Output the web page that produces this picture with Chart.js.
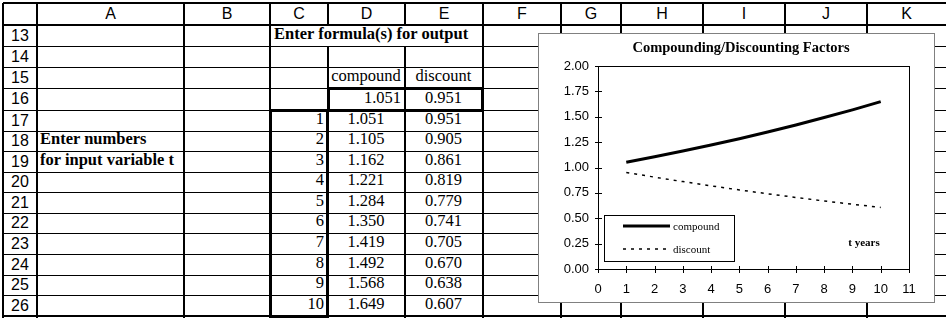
<!DOCTYPE html>
<html>
<head>
<meta charset="utf-8">
<script src="https://cdn.jsdelivr.net/npm/chart.js@4"></script>
<style>
  html, body { margin: 0; padding: 0; background: #fff; }
  #sheet { position: relative; width: 946px; height: 321px; overflow: hidden; }
  .ln { position: absolute; background: #000; }
  .box { position: absolute; border: 3px solid #000; box-sizing: border-box; }
  .cell { position: absolute; display: flex; box-sizing: border-box; white-space: nowrap; color: #000; }
  .cell span { display: inline-block; transform: scaleY(1.07); transform-origin: bottom; }
  .hdr { font: 16px "Liberation Sans", Arial, sans-serif; align-items: center; justify-content: center; }
  .txt { font: 16.5px "Liberation Serif", "Times New Roman", serif; align-items: flex-end; padding: 0 4px 2px 3px; }
  #chartBox { position: absolute; left: 538px; top: 33px; width: 397px; height: 270px;
              box-sizing: border-box; border: 1px solid #808080; background: #fff; }
</style>
</head>
<body>
<div id="sheet">
  <div id="chartBox"><canvas id="factorsChart" width="395" height="268"></canvas></div>
</div>
<script>
// data of the sheet / chart
const years = [1, 2, 3, 4, 5, 6, 7, 8, 9, 10];
const compound = [1.051, 1.105, 1.162, 1.221, 1.284, 1.350, 1.419, 1.492, 1.568, 1.649];
const discount = [0.951, 0.905, 0.861, 0.819, 0.779, 0.741, 0.705, 0.670, 0.638, 0.607];
const colLetters = ["A", "B", "C", "D", "E", "F", "G", "H", "I", "J", "K"];
const rowNumbers = [13, 14, 15, 16, 17, 18, 19, 20, 21, 22, 23, 24, 25, 26];
const xTicks = [0, 1, 2, 3, 4, 5, 6, 7, 8, 9, 10, 11];
const yTicks = [0, 0.25, 0.5, 0.75, 1, 1.25, 1.5, 1.75, 2];

// grid geometry (pixels)
const colX = [3, 37, 184, 270, 328, 405, 483, 561, 621, 703, 785, 867, 946];
const rowY = [3, 25, 46, 67, 88, 110, 131, 151, 172, 192, 213, 233, 254, 275, 295, 316];

const sheet = document.getElementById("sheet");
const chartBox = document.getElementById("chartBox");

function addDiv(cls, x, y, w, h) {
    const d = document.createElement("div");
    d.className = cls;
    Object.assign(d.style, { left: x + "px", top: y + "px", width: w + "px", height: h + "px" });
    sheet.insertBefore(d, chartBox);
    return d;
}

// grid lines (the last column edge is cut off by the window)
colX.slice(0, -1).forEach(x => addDiv("ln", x - 1, 3, 2, 316 - 3 + 2));
rowY.forEach((y, i) => {
    const thick = (i <= 1 || i === rowY.length - 1) ? 2 : 1;
    addDiv("ln", 3, y - (thick > 1 ? 1 : 0), 946, thick);
});

// text cells: c = column index (0 = row header), r = row index (0 = column header)
function addCell(c, r, text, opts = {}) {
    const c2 = opts.span ? c + opts.span : c + 1;
    const d = addDiv("cell " + (opts.hdr ? "hdr" : "txt"), colX[c], rowY[r], colX[c2] - colX[c], rowY[r + 1] - rowY[r]);
    if (!opts.hdr) d.style.justifyContent = opts.align === "right" ? "flex-end" : opts.align === "center" ? "center" : "flex-start";
    if (opts.bold) d.style.fontWeight = "bold";
    if (opts.span) {
        // text spilling over empty cells hides their grid lines
        d.style.background = "#fff";
        d.style.left = (colX[c] + 1) + "px";
        d.style.width = (colX[c2] - colX[c] - 2) + "px";
        d.style.top = (rowY[r] + 1) + "px";
        d.style.height = (rowY[r + 1] - rowY[r] - 1) + "px";
    }
    const s = document.createElement("span");
    s.textContent = text;
    d.appendChild(s);
}

colLetters.forEach((l, i) => addCell(i + 1, 0, l, { hdr: true }));
rowNumbers.forEach((n, i) => addCell(0, i + 1, String(n), { hdr: true }));

addCell(3, 1, "Enter formula(s) for output", { bold: true, span: 3 });
addCell(4, 3, "compound", { align: "center" });
addCell(5, 3, "discount", { align: "center" });
addCell(4, 4, compound[0].toFixed(3), { align: "right" });
addCell(5, 4, discount[0].toFixed(3), { align: "center" });
addCell(1, 6, "Enter numbers", { bold: true });
addCell(1, 7, "for input variable t", { bold: true });
years.forEach((t, i) => {
    addCell(3, 5 + i, String(t), { align: "right" });
    addCell(4, 5 + i, compound[i].toFixed(3), { align: "center" });
    addCell(5, 5 + i, discount[i].toFixed(3), { align: "center" });
});

// thick borders: D16:E16 and C17:C26
addDiv("box", colX[4] - 1, rowY[4] - 1, colX[6] - colX[4] + 2, rowY[5] - rowY[4] + 3);
addDiv("box", colX[3] - 1, rowY[5] - 1, colX[4] - colX[3] + 2, rowY[15] - rowY[5] + 3);

// ____________________________________________________________________________

// frame, crossing ticks, title, legend and axis note
const excelDecor = {
    id: "excelDecor",
    afterDraw(chart) {
        const { ctx, chartArea: a, scales: { x, y } } = chart;
        ctx.save();
        ctx.strokeStyle = "#000";
        ctx.lineWidth = 1;
        ctx.strokeRect(a.left + 0.5, a.top + 0.5, a.right - a.left, a.bottom - a.top);

        ctx.beginPath();
        yTicks.forEach(v => {
            const py = Math.round(y.getPixelForValue(v)) + 0.5;
            ctx.moveTo(a.left - 3, py); ctx.lineTo(a.left + 4, py);
        });
        xTicks.forEach(v => {
            const px = Math.round(x.getPixelForValue(v)) + 0.5;
            ctx.moveTo(px, a.bottom - 3); ctx.lineTo(px, a.bottom + 4);
        });
        ctx.stroke();

        // title
        ctx.fillStyle = "#000";
        ctx.textAlign = "center";
        ctx.textBaseline = "middle";
        ctx.font = 'bold 14.5px "Liberation Serif", "Times New Roman", serif';
        ctx.fillText("Compounding/Discounting Factors", 202, 14);

        // t years
        ctx.font = 'bold 11px "Liberation Serif", "Times New Roman", serif';
        ctx.fillText("t years", a.right - 45, a.bottom - 26);

        // legend
        const lx = a.left + 6, ly = a.bottom - 54;
        ctx.fillStyle = "#fff";
        ctx.fillRect(lx, ly, 130, 46);
        ctx.strokeRect(lx + 0.5, ly + 0.5, 130, 46);
        ctx.textAlign = "left";
        ctx.font = '11px "Liberation Serif", "Times New Roman", serif';
        chart.data.datasets.forEach((ds, i) => {
            const yy = ly + 11 + i * 23;
            ctx.save();
            ctx.strokeStyle = ds.borderColor;
            ctx.lineWidth = ds.borderWidth;
            ctx.setLineDash(ds.borderDash || []);
            ctx.beginPath();
            ctx.moveTo(lx + 19, yy); ctx.lineTo(lx + 66, yy);
            ctx.stroke();
            ctx.restore();
            ctx.fillStyle = "#000";
            ctx.fillText(ds.label, lx + 69, yy + 1);
        });
        ctx.restore();
    }
};

const ctxFactors = document.getElementById("factorsChart").getContext("2d");
new Chart(ctxFactors, {
    type: "line",
    data: {
        datasets: [
            {
                label: "compound",
                data: years.map((t, i) => ({ x: t, y: compound[i] })),
                borderColor: "#000",
                borderWidth: 3,
                pointRadius: 0,
                fill: false,
            },
            {
                label: "discount",
                data: years.map((t, i) => ({ x: t, y: discount[i] })),
                borderColor: "#000",
                borderWidth: 1.5,
                borderDash: [3, 5],
                pointRadius: 0,
                fill: false,
            },
        ],
    },
    options: {
        responsive: false,
        animation: false,
        devicePixelRatio: 1,
        layout: { padding: { top: 32, right: 25, left: 0, bottom: 0 } },
        plugins: { legend: { display: false }, title: { display: false }, tooltip: { enabled: false } },
        scales: {
            x: {
                type: "linear", min: 0, max: 11,
                grid: { display: false, drawTicks: false }, border: { display: false },
                ticks: { stepSize: 1, color: "#000", padding: 13, maxRotation: 0,
                         font: { family: '"Liberation Sans", Arial, sans-serif', size: 13 } },
                afterFit: s => { s.height = 33; },
            },
            y: {
                min: 0, max: 2,
                grid: { display: false, drawTicks: false }, border: { display: false },
                ticks: { stepSize: 0.25, color: "#000", padding: 9, callback: v => v.toFixed(2),
                         font: { family: '"Liberation Sans", Arial, sans-serif', size: 13 } },
                afterFit: s => { s.width = 59; },
            },
        },
    },
    plugins: [excelDecor],
});
</script>
</body>
</html>
